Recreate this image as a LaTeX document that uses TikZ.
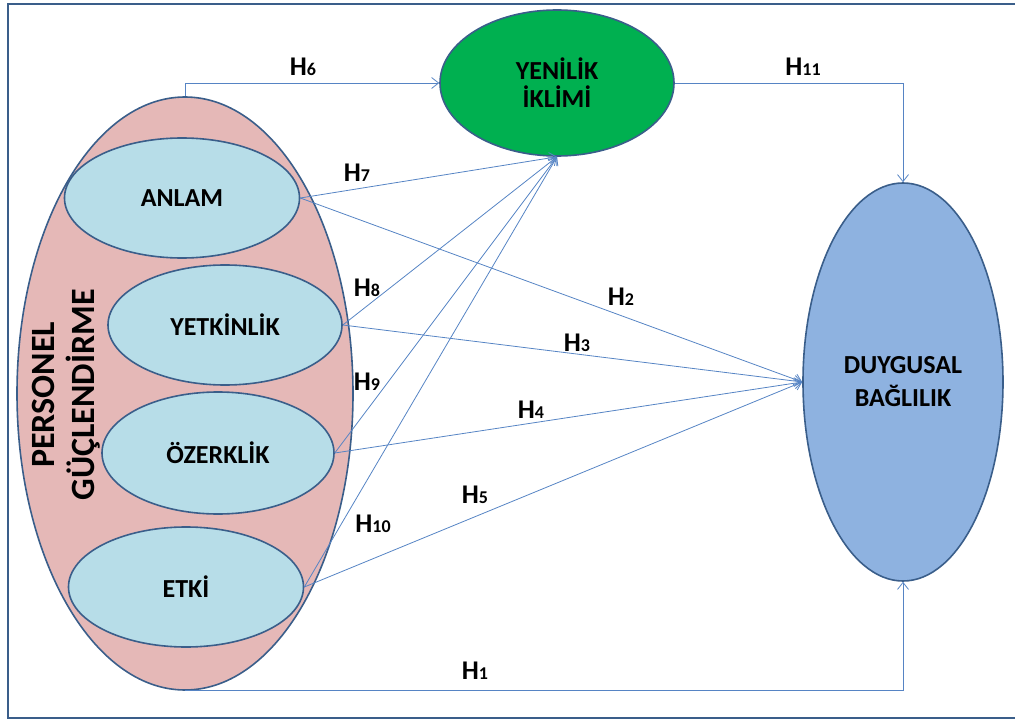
\documentclass[tikz,border=0pt]{standalone}
\usepackage{fontspec}
\setmainfont{Carlito}
\usetikzlibrary{arrows.meta,shapes.geometric}
\definecolor{edgeblue}{RGB}{58,94,138}
\definecolor{lineblue}{RGB}{86,132,196}
\definecolor{pinkfill}{RGB}{229,184,183}
\definecolor{cyanfill}{RGB}{183,221,232}
\definecolor{greenfill}{RGB}{0,176,80}
\definecolor{bluefill}{RGB}{142,178,224}
\newcommand{\hyp}[1]{H{\fontsize{18}{18}\selectfont #1}}

\begin{document}
\begin{tikzpicture}[x=1pt, y=-1pt,
    oval/.style={ellipse, draw=edgeblue, line width=1.6pt, inner sep=0pt, align=center,
        font=\bfseries\fontsize{26}{28}\selectfont},
    arr/.style={lineblue, line width=0.8pt, -{Straight Barb[length=7pt,width=11pt]}},
    lbl/.style={font=\bfseries\fontsize{27}{27}\selectfont}]
    \useasboundingbox (0,0) rectangle (1015,722);
    \draw[edgeblue, line width=2pt] (8,4) rectangle (1040,718);

    % outer construct
    \node[oval, fill=pinkfill, minimum width=336, minimum height=593] (guc) at (185,393.5) {};
    \node[rotate=90, align=center, font=\bfseries\fontsize{34}{40}\selectfont] (gucl) at (66,395) {PERSONEL\\GÜÇLENDİRME};

    % dimensions
    \node[oval, fill=cyanfill, minimum width=235, minimum height=120] (anlam) at (182,198) {ANLAM};
    \node[oval, fill=cyanfill, minimum width=234, minimum height=120] (yetkin) at (225,325) {YETKİNLİK};
    \node[oval, fill=cyanfill, minimum width=232, minimum height=122] (ozerk) at (218,453) {ÖZERKLİK};
    \node[oval, fill=cyanfill, minimum width=235, minimum height=120] (etki) at (186,587) {ETKİ};

    \node[oval, fill=greenfill, minimum width=234, minimum height=146] (yenilik) at (557,83) {YENİLİK\\İKLİMİ};
    \node[oval, fill=bluefill, minimum width=200, minimum height=398, font=\bfseries\fontsize{26}{33}\selectfont] (duygu) at (903,382) {DUYGUSAL\\BAĞLILIK};

    % paths
    \draw[arr] (guc.north) |- (yenilik.west);
    \draw[arr] (yenilik.east) -| (duygu.north);
    \draw[arr] (guc.south) -| (duygu.south);
    \foreach \s in {anlam,yetkin,ozerk,etki} {
        \draw[arr] (\s.east) -- (yenilik.south);
        \draw[arr] (\s.east) -- (duygu.west);
    }

    \node[lbl] (h1) at (475,671) {\hyp{1}};
    \node[lbl] (h2) at (621,297) {\hyp{2}};
    \node[lbl] (h3) at (577,343) {\hyp{3}};
    \node[lbl] (h4) at (531,410) {\hyp{4}};
    \node[lbl] (h5) at (475,495) {\hyp{5}};
    \node[lbl] (h6) at (303,67) {\hyp{6}};
    \node[lbl] (h7) at (357,173) {\hyp{7}};
    \node[lbl] (h8) at (367,288) {\hyp{8}};
    \node[lbl] (h9) at (367,382) {\hyp{9}};
    \node[lbl] (h10) at (373,524) {\hyp{10}};
    \node[lbl] (h11) at (803,67) {\hyp{11}};
\end{tikzpicture}
\end{document}
